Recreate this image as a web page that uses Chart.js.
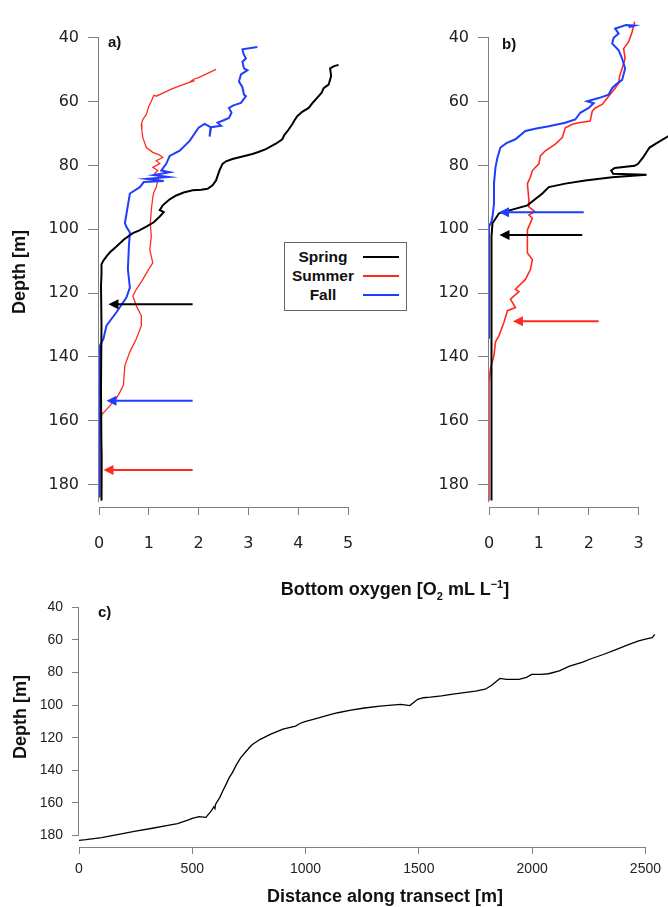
<!DOCTYPE html>
<html>
<head>
<meta charset="utf-8">
<script src="https://cdn.jsdelivr.net/npm/chart.js@4.4.1/dist/chart.umd.min.js"></script>
<style>
  body { margin: 0; background: #fff; }
  #page { position: relative; width: 668px; height: 907px; overflow: hidden;
          font-family: "Liberation Sans", Arial, sans-serif; color: #111; }
  canvas { position: absolute; }
  .lbl { position: absolute; font-weight: bold; line-height: 1; white-space: nowrap; }
  .title { font-size: 18px; }
  .vert { transform: translate(-50%, -50%) rotate(-90deg); }
  .panel { font-size: 15px; }
  #legend { position: absolute; left: 284px; top: 242px; width: 121px; height: 67px;
            border: 1px solid #666; background: #fff; }
  .row { position: absolute; left: 0; height: 18px; width: 121px; }
  .row span { position: absolute; left: 0; width: 76px; text-align: center;
              font-weight: bold; font-size: 15.5px; line-height: 18px; }
  .row i { position: absolute; left: 78px; width: 36px; top: 8px; height: 0; border-top: 2px solid; }
  sub, sup { font-size: 11px; line-height: 0; }
</style>
</head>
<body>
<div id="page">
  <canvas id="chartA" width="420" height="570" style="left:0;top:0"></canvas>
  <canvas id="chartB" width="248" height="570" style="left:420px;top:0"></canvas>
  <canvas id="chartC" width="668" height="327" style="left:0;top:580px"></canvas>

  <div class="lbl panel" style="left:108px;top:34px">a)</div>
  <div class="lbl panel" style="left:502px;top:36px">b)</div>
  <div class="lbl panel" style="left:98px;top:604px">c)</div>

  <div class="lbl title vert" style="left:19px;top:272px">Depth [m]</div>
  <div class="lbl title vert" style="left:20px;top:717px">Depth [m]</div>
  <div class="lbl title" style="left:395px;top:580px;transform:translateX(-50%)">Bottom oxygen [O<sub>2</sub> mL L<sup>−1</sup>]</div>
  <div class="lbl title" style="left:385px;top:887px;transform:translateX(-50%)">Distance along transect [m]</div>

  <div id="legend">
    <div class="row" style="top:5px"><span>Spring</span><i style="color:#000"></i></div>
    <div class="row" style="top:24px"><span>Summer</span><i style="color:#ff2a1f"></i></div>
    <div class="row" style="top:43px"><span>Fall</span><i style="color:#1f3dff"></i></div>
  </div>
</div>

<script>
// ---- data ----
const depthTicks = [40, 60, 80, 100, 120, 140, 160, 180];
const o2TicksA = [0, 1, 2, 3, 4, 5];
const o2TicksB = [0, 1, 2, 3];
const distTicks = [0, 500, 1000, 1500, 2000, 2500];

// panel a) oxygen [mL/L] vs depth [m]
const springA_o2 = [4.81, 4.72, 4.64, 4.66, 4.61, 4.51, 4.47, 4.41, 4.30, 4.21, 4.08, 3.98, 3.92, 3.88, 3.80, 3.72, 3.68, 3.55, 3.35, 3.20, 3.08, 2.88, 2.68, 2.55, 2.48, 2.42, 2.35, 2.28, 2.18, 2.05, 1.88, 1.70, 1.55, 1.42, 1.28, 1.22, 1.30, 1.22, 1.10, 0.95, 0.80, 0.68, 0.50, 0.35, 0.22, 0.15, 0.08, 0.05, 0.05, 0.04, 0.05, 0.04, 0.05, 0.05];
const springA_depth = [48.5, 48.9, 49.6, 52.0, 54.7, 55.8, 57.2, 58.3, 60.2, 62.0, 63.2, 64.6, 66.0, 67.1, 68.9, 70.5, 71.8, 73.2, 74.9, 75.8, 76.4, 77.2, 78.0, 78.7, 79.5, 81.5, 84.7, 86.2, 87.3, 87.6, 87.8, 88.5, 89.4, 90.6, 92.5, 94.0, 94.6, 96.0, 97.8, 99.2, 100.4, 101.2, 103.2, 105.4, 107.2, 108.5, 110.0, 111.0, 114.0, 117.7, 130.0, 150.0, 170.0, 185.0];

const summerA_o2 = [2.35, 2.00, 1.90, 1.82, 1.92, 1.70, 1.45, 1.15, 1.10, 1.05, 1.00, 0.95, 0.88, 0.85, 0.86, 0.88, 0.92, 0.95, 1.08, 1.20, 1.28, 1.15, 1.22, 1.08, 1.18, 1.12, 1.20, 1.15, 1.10, 1.08, 1.05, 1.03, 1.05, 1.02, 1.05, 1.08, 1.00, 0.88, 0.75, 0.68, 0.75, 0.85, 0.85, 0.75, 0.62, 0.52, 0.49, 0.42, 0.35, 0.15, 0.05, 0.04, 0.06, 0.05];
const summerA_depth = [49.9, 52.5, 53.0, 53.9, 53.4, 54.6, 56.1, 58.3, 58.0, 59.9, 61.5, 64.0, 65.6, 67.1, 69.0, 71.3, 73.0, 74.4, 75.9, 76.6, 77.5, 78.5, 79.4, 80.6, 81.6, 82.5, 83.5, 86.8, 88.5, 89.9, 94.0, 98.1, 102.3, 106.4, 108.5, 110.5, 112.5, 115.7, 118.8, 120.9, 124.0, 127.1, 130.2, 134.3, 138.4, 142.6, 148.8, 151.0, 152.9, 156.5, 158.1, 164.0, 172.0, 185.0];

const fallA_o2 = [3.18, 2.88, 2.90, 2.95, 2.88, 2.91, 2.98, 2.85, 2.81, 2.88, 2.91, 2.95, 2.85, 2.70, 2.61, 2.66, 2.61, 2.48, 2.38, 2.45, 2.25, 2.22, 2.24, 2.12, 2.00, 1.82, 1.62, 1.42, 1.35, 1.25, 1.42, 1.10, 1.40, 0.95, 1.30, 0.90, 0.82, 0.62, 0.58, 0.52, 0.55, 0.62, 0.60, 0.58, 0.62, 0.55, 0.35, 0.15, 0.09, 0.02, 0.01];
const fallA_depth = [42.9, 43.6, 45.0, 46.5, 47.5, 49.6, 50.2, 51.5, 53.7, 55.5, 57.8, 58.3, 60.4, 61.2, 62.0, 63.5, 65.1, 66.0, 66.6, 67.6, 68.0, 71.0, 68.0, 67.0, 68.2, 72.3, 75.4, 77.0, 79.5, 81.6, 82.1, 83.0, 83.6, 84.2, 84.9, 85.2, 86.8, 88.8, 92.5, 98.1, 99.2, 101.0, 105.4, 112.6, 118.3, 121.4, 126.0, 130.2, 134.3, 136.4, 184.0];

// panel b)
const springB_o2 = [3.90, 3.60, 3.33, 3.22, 3.09, 2.99, 2.92, 2.52, 2.45, 2.49, 3.16, 2.47, 2.22, 1.93, 1.53, 1.20, 1.07, 0.77, 0.20, 0.07, 0.05, 0.05];
const springB_depth = [66.0, 70.8, 73.3, 74.4, 77.5, 79.5, 80.1, 80.8, 81.6, 82.6, 82.9, 83.7, 84.2, 84.7, 85.7, 86.8, 88.8, 92.5, 95.0, 98.1, 102.3, 185.0];

const summerB_o2 = [2.92, 2.87, 2.80, 2.70, 2.73, 2.67, 2.62, 2.60, 2.53, 2.40, 2.27, 2.13, 2.07, 2.03, 1.80, 1.67, 1.53, 1.47, 1.33, 1.13, 1.03, 1.00, 0.87, 0.83, 0.77, 0.80, 0.80, 0.92, 0.80, 0.87, 0.77, 0.77, 0.87, 0.83, 0.73, 0.53, 0.60, 0.43, 0.53, 0.37, 0.30, 0.20, 0.13, 0.10, 0.03, 0.00, 0.00];
const summerB_depth = [35.0, 38.2, 41.3, 43.4, 46.5, 49.6, 52.0, 54.2, 55.8, 58.3, 60.9, 62.0, 63.0, 66.1, 66.6, 67.1, 68.2, 71.3, 73.3, 75.4, 77.0, 79.5, 81.6, 83.7, 85.7, 90.9, 93.0, 94.5, 95.5, 96.5, 100.2, 107.4, 109.5, 112.6, 115.7, 118.8, 119.5, 121.9, 124.5, 125.5, 129.1, 133.3, 135.3, 139.5, 143.6, 147.8, 185.0];

const fallB_o2 = [2.80, 2.92, 2.75, 2.53, 2.60, 2.50, 2.47, 2.60, 2.67, 2.73, 2.67, 2.55, 2.47, 2.40, 2.20, 1.97, 2.10, 2.00, 1.83, 1.73, 1.53, 1.20, 0.95, 0.73, 0.53, 0.35, 0.23, 0.17, 0.13, 0.10, 0.10, 0.07, 0.05, 0.00, 0.00];
const fallB_depth = [36.7, 36.2, 36.0, 37.1, 38.7, 40.0, 41.8, 43.9, 46.5, 49.6, 53.2, 54.6, 55.8, 57.8, 58.9, 59.9, 60.5, 62.0, 63.5, 65.6, 66.6, 67.7, 68.4, 69.2, 71.8, 73.0, 74.4, 77.5, 80.6, 85.7, 91.9, 96.1, 97.5, 99.2, 134.3];

// arrows: depth, tail oxygen, tip oxygen  (order: spring, fall, summer)
const arrowsA_depth = [123.5, 153.7, 175.4];
const arrowsA_tail = [1.88, 1.88, 1.88];
const arrowsA_tip = [0.19, 0.15, 0.09];
const arrowsB_depth = [101.8, 94.7, 128.8];
const arrowsB_tail = [1.87, 1.90, 2.20];
const arrowsB_tip = [0.21, 0.20, 0.48];

// panel c) bottom profile
const transect_dist = [0, 30, 100, 175, 250, 324, 380, 435, 480, 500, 530, 560, 584, 595, 600, 603, 621, 635, 649, 663, 677, 695, 714, 740, 760, 770, 800, 844, 900, 956, 975, 997, 1050, 1100, 1142, 1200, 1260, 1328, 1380, 1420, 1460, 1495, 1520, 1551, 1600, 1650, 1700, 1750, 1793, 1820, 1858, 1886, 1942, 1975, 1998, 2040, 2072, 2120, 2165, 2220, 2260, 2314, 2370, 2425, 2470, 2500, 2530, 2541];
const transect_depth = [182.9, 182.5, 181.2, 179.2, 177.3, 175.5, 174.0, 172.7, 170.5, 169.4, 168.4, 168.8, 164.9, 162.3, 163.5, 160.8, 156.7, 152.5, 148.6, 144.5, 141.4, 136.5, 132.2, 128.0, 124.8, 123.7, 121.0, 118.0, 114.8, 112.9, 111.3, 110.2, 108.2, 106.2, 104.7, 103.1, 101.8, 100.6, 100.0, 99.6, 100.3, 96.5, 95.5, 95.1, 94.3, 93.3, 92.4, 91.4, 90.3, 88.0, 83.7, 84.3, 84.3, 83.0, 81.2, 81.2, 80.8, 79.0, 76.1, 73.8, 71.6, 69.0, 66.0, 62.9, 60.6, 59.6, 58.7, 56.7];

// ---- styles ----
const BLACK = "#000000";
const RED = "#ff2a1f";
const BLUE = "#1f3dff";
const AXIS = "#808080";

Chart.defaults.font.family = '"Liberation Sans", Arial, sans-serif';

const pts = (xs, ys) => xs.map((v, i) => ({ x: v, y: ys[i] }));
const plain = (v) => String(v);

// R-style axis lines that stop at the tick range
const axisLines = {
  id: "axisLines",
  afterDraw(chart, args, opts) {
    const { ctx, chartArea } = chart;
    const xs = chart.scales.x, ys = chart.scales.y;
    ctx.save();
    ctx.strokeStyle = AXIS;
    ctx.lineWidth = 1;
    ctx.beginPath();
    const lx = chartArea.left - 0.5;
    ctx.moveTo(lx, ys.getPixelForValue(opts.y[0]));
    ctx.lineTo(lx, ys.getPixelForValue(opts.y[1]));
    const by = chartArea.bottom + 0.5;
    ctx.moveTo(xs.getPixelForValue(opts.x[0]), by);
    ctx.lineTo(xs.getPixelForValue(opts.x[1]), by);
    ctx.stroke();
    ctx.restore();
  }
};

// horizontal arrows pointing at the onset of hypoxia
const arrows = {
  id: "arrows",
  afterDatasetsDraw(chart, args, opts) {
    if (!opts.depth) return;
    const { ctx } = chart;
    const xs = chart.scales.x, ys = chart.scales.y;
    ctx.save();
    opts.depth.forEach((d, i) => {
      const y = ys.getPixelForValue(d);
      const x0 = xs.getPixelForValue(opts.tail[i]);
      const x1 = xs.getPixelForValue(opts.tip[i]);
      ctx.strokeStyle = opts.colors[i];
      ctx.fillStyle = opts.colors[i];
      ctx.lineWidth = 2;
      ctx.beginPath();
      ctx.moveTo(x0, y);
      ctx.lineTo(x1 + 6, y);
      ctx.stroke();
      ctx.beginPath();
      ctx.moveTo(x1, y);
      ctx.lineTo(x1 + 10, y - 5);
      ctx.lineTo(x1 + 10, y + 5);
      ctx.closePath();
      ctx.fill();
    });
    ctx.restore();
  }
};

function lineSet(label, data, color, width) {
  return { label, data, showLine: true, borderColor: color, backgroundColor: color,
           borderWidth: width, pointRadius: 0, tension: 0 };
}

function setTicks(values) {
  return (scale) => { scale.ticks = values.map((v) => ({ value: v })); };
}

function oxygenChart(id, sets, xMax, xTicks, yWidth, padRight, arrowOpts) {
  return new Chart(document.getElementById(id), {
    type: "scatter",
    data: { datasets: sets },
    options: {
      responsive: false,
      animation: false,
      events: [],
      layout: { padding: { top: 13, right: padRight, left: 0, bottom: 0 } },
      plugins: {
        legend: { display: false },
        tooltip: { enabled: false },
        axisLines: { x: [0, xTicks[xTicks.length - 1]], y: [40, 185.5] },
        arrows: arrowOpts
      },
      scales: {
        x: {
          type: "linear", min: 0, max: xMax,
          afterBuildTicks: setTicks(xTicks),
          afterFit: (s) => { s.height = 63; },
          border: { display: false },
          grid: { drawOnChartArea: false, drawTicks: true, tickLength: 8, color: AXIS },
          ticks: { color: "#222", padding: 19, autoSkip: false, maxRotation: 0, callback: plain,
                   font: { family: "DejaVu Sans", size: 16 } }
        },
        y: {
          type: "linear", reverse: true, min: 34, max: 187,
          afterBuildTicks: setTicks(depthTicks),
          afterFit: (s) => { s.width = yWidth; },
          border: { display: false },
          grid: { drawOnChartArea: false, drawTicks: true, tickLength: 11, color: AXIS },
          ticks: { color: "#222", padding: 9, autoSkip: false, callback: plain,
                   font: { family: "DejaVu Sans", size: 16 } }
        }
      }
    },
    plugins: [axisLines, arrows]
  });
}

oxygenChart("chartA", [
  lineSet("Spring", pts(springA_o2, springA_depth), BLACK, 2),
  lineSet("Fall", pts(fallA_o2, fallA_depth), BLUE, 2),
  lineSet("Summer", pts(summerA_o2, summerA_depth), RED, 1.3)
], 5.24, o2TicksA, 99, 60, {
  depth: arrowsA_depth, tail: arrowsA_tail, tip: arrowsA_tip, colors: [BLACK, BLUE, RED]
});

oxygenChart("chartB", [
  lineSet("Spring", pts(springB_o2, springB_depth), BLACK, 2),
  lineSet("Fall", pts(fallB_o2, fallB_depth), BLUE, 2),
  lineSet("Summer", pts(summerB_o2, summerB_depth), RED, 1.6)
], 3.59, o2TicksB, 69, 0, {
  depth: arrowsB_depth, tail: arrowsB_tail, tip: arrowsB_tip, colors: [BLACK, BLUE, RED]
});

new Chart(document.getElementById("chartC"), {
  type: "scatter",
  data: { datasets: [lineSet("Bottom", pts(transect_dist, transect_depth), BLACK, 1.3)] },
  options: {
    responsive: false,
    animation: false,
    events: [],
    layout: { padding: { top: 16, right: 0, left: 0, bottom: 0 } },
    plugins: {
      legend: { display: false },
      tooltip: { enabled: false },
      axisLines: { x: [0, 2500], y: [40, 180] }
    },
    scales: {
      x: {
        type: "linear", min: 0, max: 2570,
        afterBuildTicks: setTicks(distTicks),
        afterFit: (s) => { s.height = 60; },
        border: { display: false },
        grid: { drawOnChartArea: false, drawTicks: true, tickLength: 7, color: AXIS },
        ticks: { color: "#222", padding: 7, autoSkip: false, maxRotation: 0, callback: plain,
                 font: { size: 14 } }
      },
      y: {
        type: "linear", reverse: true, min: 34, max: 187,
        afterBuildTicks: setTicks(depthTicks),
        afterFit: (s) => { s.width = 79; },
        border: { display: false },
        grid: { drawOnChartArea: false, drawTicks: true, tickLength: 7, color: AXIS },
        ticks: { color: "#222", padding: 9, autoSkip: false, callback: plain, font: { size: 14 } }
      }
    }
  },
  plugins: [axisLines]
});
</script>
</body>
</html>
